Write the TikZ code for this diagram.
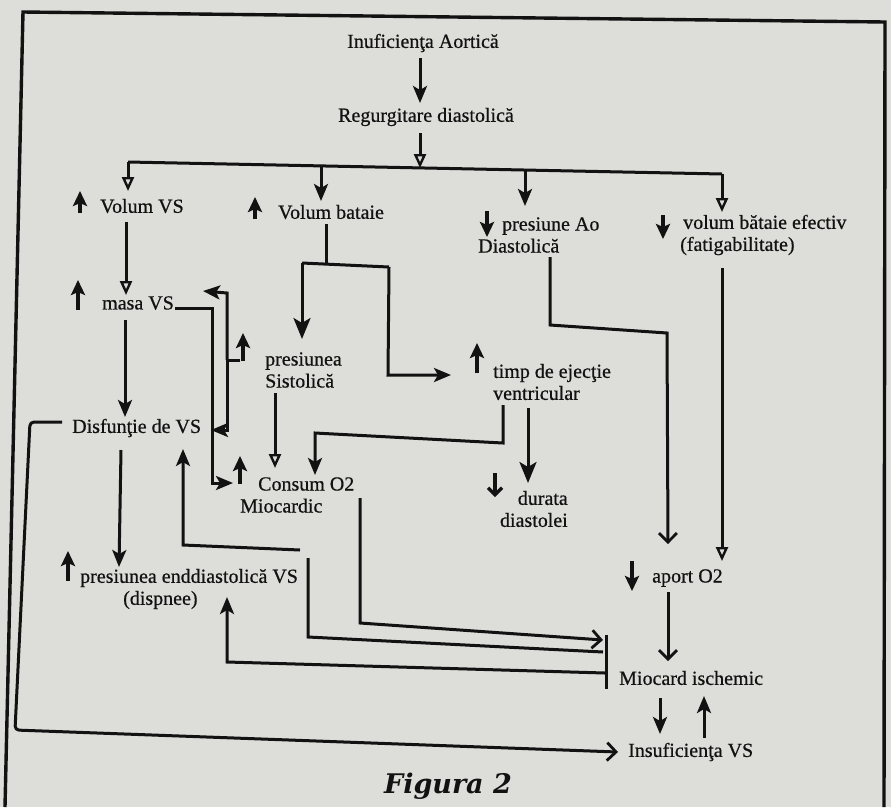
\documentclass[tikz,border=0pt]{standalone}
\usepackage{fontspec}
\setmainfont{Liberation Serif}
\newfontfamily\lblfam{Liberation Serif}[FakeBold=0.6]
\newfontfamily\figfont{DejaVu Serif}
\usetikzlibrary{arrows.meta,calc}
\definecolor{paper}{RGB}{221,222,218}
\definecolor{ink}{RGB}{18,18,18}
\newcommand{\lblfont}{\lblfam\fontsize{20}{22}\selectfont}
\tikzset{
  lbl/.style={inner sep=0pt, anchor=west, align=left, font=\lblfont, text=ink},
  ln/.style={draw=ink, line width=3pt, line join=miter},
  fa/.style={-{Stealth[length=17pt,width=14pt,inset=4pt]}},
  fb/.style={-{Stealth[length=21pt,width=17pt,inset=5pt]}},
  ho/.style={-{Triangle[open,length=14pt,width=12pt,line width=2.4pt]}},
  vv/.style={-{Straight Barb[length=9pt,width=18pt,line width=2.8pt]}},
  ind/.style={draw=ink, line width=3.6pt, -{Stealth[length=15pt,width=14pt,inset=3pt]}},
  indv/.style={draw=ink, line width=3.4pt, -{Straight Barb[length=7pt,width=14pt,line width=3.2pt]}},
  frame/.style={draw=ink, line width=3.4pt},
}
\begin{document}
\begin{tikzpicture}[x=1pt,y=-1pt]
\fill[paper] (0,0) rectangle (891,807);
\useasboundingbox (0,0) rectangle (891,807);
\draw[frame] (5,807) -- (23,12) -- (885,22) -- (884,807);

% ---------- labels ----------
\node[lbl,anchor=center] (ia) at (423,43) {Inuficienţa Aortică};
\node[lbl,anchor=center] (rd) at (426,117) {Regurgitare diastolică};
\node[lbl] (vvs) at (100,206) {Volum VS};
\node[lbl] (vb) at (278,212) {Volum bataie};
\node[lbl] (pao) at (478,235) {\hspace*{24pt}presiune Ao\\Diastolică};
\node[lbl] (vbe) at (680,235) {\hspace*{3pt}volum bătaie efectiv\\(fatigabilitate)};
\node[lbl] (mvs) at (102,303) {masa VS};
\node[lbl] (ps) at (265,370) {presiunea\\Sistolică};
\node[lbl] (tej) at (493,382) {timp de ejecţie\\ventricular};
\node[lbl] (dvs) at (72,428) {Disfunţie de VS};
\node[lbl] (co) at (240,495) {\hspace*{18pt}Consum O2\\Miocardic};
\node[lbl,anchor=east,align=right] (dd) at (568,509) {durata\\diastolei};
\node[lbl] (ped) at (80,589) {presiunea enddiastolică VS\\\hspace*{43pt}(dispnee)};
\node[lbl] (ao2) at (652,578) {aport O2};
\node[lbl] (mi) at (619,678) {Miocard ischemic};
\node[lbl] (ivs) at (628,752) {Insuficienţa VS};
\node[font={\figfont\fontsize{27}{30}\selectfont\bfseries\itshape},text=ink,inner sep=0pt] (fig) at (448,786) {Figura 2};

% ---------- up / down indicators ----------
\draw[ind] ($(vvs.west)+(-20,7)$) -- ($(vvs.west)+(-20,-15)$);
\draw[ind] ($(vb.west)+(-23,7)$) -- ($(vb.west)+(-23,-15)$);
\draw[ind] ($(mvs.west)+(-24,7)$) -- ($(mvs.west)+(-24,-23)$);
\draw[ind] ($(ps.west)+(-22,-9)$) -- ($(ps.west)+(-22,-37)$);
\draw[ind] ($(tej.west)+(-16,-9)$) -- ($(tej.west)+(-16,-39)$);
\draw[ind] ($(co.west)+(0,-11)$) -- ($(co.west)+(0,-39)$);
\draw[ind] ($(ped.west)+(-12,-8)$) -- ($(ped.west)+(-12,-38)$);
\draw[ind] ($(pao.west)+(9,-24)$) -- ($(pao.west)+(9,2)$);
\draw[ind] ($(vbe.west)+(-17,-20)$) -- ($(vbe.west)+(-17,4)$);
\draw[indv] ($(dd.east)+(-73,-36)$) -- ($(dd.east)+(-73,-12)$);
\draw[ind] ($(ao2.west)+(-20,-17)$) -- ($(ao2.west)+(-20,13)$);

% ---------- way points ----------
\path (420,58) coordinate (t1) (420,103) coordinate (t2)
      (420,133) coordinate (t3) (420,168) coordinate (t4)
      (128,162) coordinate (bL) (722,174) coordinate (bR)
      (321,166) coordinate (bB) (525,170) coordinate (bA)
      (128,191) coordinate (vvsIn) (321,201) coordinate (vbIn)
      (525,206) coordinate (paoIn) (722,212) coordinate (vbeIn)
      (126,222) coordinate (vvsOut) (126,295) coordinate (mvsIn)
      (125,320) coordinate (mvsOut) (125,417) coordinate (dvsIn)
      (121,450) coordinate (dvsOut) (119,567) coordinate (pedIn)
      (62,422) coordinate (fbA) (30,422) coordinate (fbB) (15,730) coordinate (fbC)
      (618,752) coordinate (ivsIn)
      (175,308) coordinate (mvsR) (212,308) coordinate (mR1) (212,483) coordinate (mR2)
      (233,483) coordinate (coInL)
      (240,360) coordinate (psL) (227,360) coordinate (psJ)
      (227,293) coordinate (psT) (203,291) coordinate (mvsInR)
      (227,430) coordinate (psB) (211,430) coordinate (dvsInR)
      (326,224) coordinate (vbOut) (326,265) coordinate (vbJ)
      (302,263) coordinate (vbSL) (389,267) coordinate (vbSR)
      (302,339) coordinate (psIn) (388,375) coordinate (vbC) (451,375) coordinate (tejIn)
      (275,393) coordinate (psOut) (275,468) coordinate (coIn1)
      (503,405) coordinate (tejO1) (503,443) coordinate (tejC1) (315,433) coordinate (tejC2)
      (315,475) coordinate (coIn2)
      (528,408) coordinate (tejO2) (528,483) coordinate (ddIn)
      (300,550) coordinate (dA) (183,545) coordinate (dB) (183,449) coordinate (dvsInB)
      (605,673) coordinate (k1) (227,662) coordinate (k2) (227,597) coordinate (pedInB)
      (603,652) coordinate (j1) (308,637) coordinate (j2) (308,558) coordinate (j3)
      (360,498) coordinate (coOut) (360,623) coordinate (coC) (603,640) coordinate (barIn)
      (606,635) coordinate (barT) (606,689) coordinate (barB)
      (550,257) coordinate (paoOut) (550,325) coordinate (pC1) (667,333) coordinate (pC2)
      (668,544) coordinate (ao2In1)
      (722,268) coordinate (vbeOut) (722,561) coordinate (ao2In2)
      (668,592) coordinate (ao2Out) (668,661) coordinate (miIn)
      (660,698) coordinate (miOut) (660,734) coordinate (ivsInT)
      (704,738) coordinate (ivsOut) (704,696) coordinate (miInB);

% ---------- connectors ----------
\draw[ln,fa] (t1) -- (t2);
\draw[ln,ho] (t3) -- (t4);
\draw[ln] (bL) -- (bR);
\draw[ln,ho] (bL) -- (vvsIn);
\draw[ln,fa] (bB) -- (vbIn);
\draw[ln,fa] (bA) -- (paoIn);
\draw[ln,ho] (bR) -- (vbeIn);

\draw[ln,ho] (vvsOut) -- (mvsIn);
\draw[ln,fa] (mvsOut) -- (dvsIn);
\draw[ln,fa] (dvsOut) -- (pedIn);
\draw[ln,vv,rounded corners=4pt] (fbA) -- (fbB) -- (fbC) -- (ivsIn);

\draw[ln,fa] (mvsR) -- (mR1) -- (mR2) -- (coInL);
\draw[ln] (psL) -- (psJ);
\draw[ln,fa] (psJ) -- (psT) -- (mvsInR);
\draw[ln,fa] (psJ) -- (psB) -- (dvsInR);

\draw[ln] (vbOut) -- (vbJ);
\draw[ln] (vbSL) -- (vbSR);
\draw[ln,fb] (vbSL) -- (psIn);
\draw[ln,fa] (vbSR) -- (vbC) -- (tejIn);

\draw[ln,ho] (psOut) -- (coIn1);
\draw[ln,fa] (tejO1) -- (tejC1) -- (tejC2) -- (coIn2);
\draw[ln,fb] (tejO2) -- (ddIn);

\draw[ln,fa] (dA) -- (dB) -- (dvsInB);
\draw[ln,fa] (k1) -- (k2) -- (pedInB);
\draw[ln] (j1) -- (j2) -- (j3);
\draw[ln,vv] (coOut) -- (coC) -- (barIn);
\draw[ln] (barT) -- (barB);

\draw[ln,vv] (paoOut) -- (pC1) -- (pC2) -- (ao2In1);
\draw[ln,ho] (vbeOut) -- (ao2In2);
\draw[ln,vv] (ao2Out) -- (miIn);
\draw[ln,fa] (miOut) -- (ivsInT);
\draw[ln,fa] (ivsOut) -- (miInB);
\end{tikzpicture}
\end{document}
